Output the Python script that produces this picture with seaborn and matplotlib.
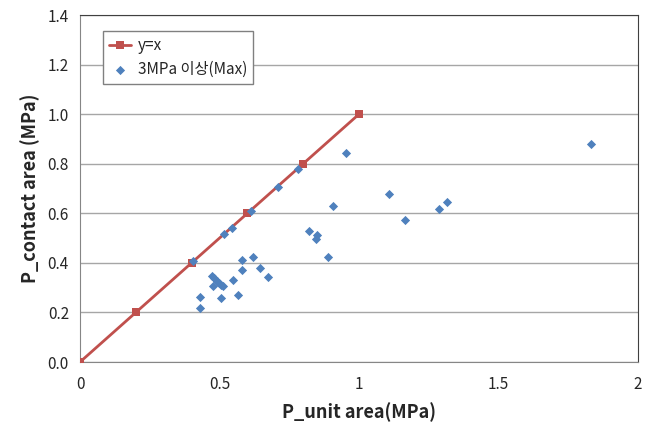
import numpy as np
import pandas as pd
import matplotlib
matplotlib.use('Agg')
import matplotlib.pyplot as plt
import seaborn as sns

# reference line y=x
line_x = [0.0, 0.2, 0.4, 0.6, 0.8, 1.0]
line_y = [0.0, 0.2, 0.4, 0.6, 0.8, 1.0]

# measured points (3MPa 이상, Max)
p_unit = [0.406, 0.517, 0.544, 0.612, 0.711, 0.783,
          0.953, 1.108, 1.314, 1.288, 0.908, 1.166, 0.822, 0.848, 0.846, 0.888, 1.833,
          0.582, 0.620, 0.580, 0.644, 0.675, 0.549, 0.565, 0.507, 0.430, 0.430,
          0.472, 0.481, 0.490, 0.499, 0.478, 0.514, 0.505]
p_contact = [0.407, 0.515, 0.539, 0.609, 0.707, 0.779,
             0.842, 0.678, 0.645, 0.617, 0.628, 0.574, 0.528, 0.512, 0.495, 0.425, 0.878,
             0.410, 0.422, 0.371, 0.381, 0.341, 0.330, 0.270, 0.257, 0.262, 0.219,
             0.348, 0.338, 0.327, 0.317, 0.306, 0.308, 0.312]

x_ticks = [0, 0.5, 1, 1.5, 2]
x_ticklabels = ['0', '0.5', '1', '1.5', '2']
y_ticks = [0.0, 0.2, 0.4, 0.6, 0.8, 1.0, 1.2, 1.4]

sns.set_style('white')
plt.rcParams['font.family'] = ['Noto Sans CJK KR', 'DejaVu Sans']

line_df = pd.DataFrame({'x': line_x, 'y': line_y})
pts_df = pd.DataFrame({'x': p_unit, 'y': p_contact})

fig = plt.figure(figsize=(6.57, 4.23), dpi=100)
ax = fig.add_axes([0.1218, 0.1442, 0.8492, 0.8203])

sns.lineplot(data=line_df, x='x', y='y', ax=ax, color='#C0504D', linewidth=2,
             marker='s', markersize=6, markeredgewidth=0, label='y=x', zorder=3)
sns.scatterplot(data=pts_df, x='x', y='y', ax=ax, color='#4F81BD', marker='D',
                s=22, linewidth=0, label='3MPa 이상(Max)', zorder=4)

ax.set_xlim(0, 2)
ax.set_ylim(0, 1.4)
ax.set_xticks(x_ticks)
ax.set_xticklabels(x_ticklabels)
ax.set_yticks(y_ticks)
ax.set_yticklabels(['%.1f' % v for v in y_ticks])
ax.yaxis.grid(True, color='#A6A6A6', linewidth=1)
ax.set_axisbelow(True)

for s in ['top', 'right']:
    ax.spines[s].set_color('#404040')
for s in ['left', 'bottom']:
    ax.spines[s].set_color('#868686')
ax.tick_params(axis='x', direction='in', length=4, color='#868686', labelsize=11, pad=10)
ax.tick_params(axis='y', direction='out', length=0, labelsize=11, pad=8)

ax.set_xlabel('P_unit area(MPa)', fontsize=13, fontweight='bold', labelpad=7)
ax.set_ylabel('P_contact area (MPa)', fontsize=13, fontweight='bold', labelpad=5)

leg = ax.legend(loc='upper left', bbox_to_anchor=(0.036, 0.963), fontsize=11,
                frameon=True, fancybox=False, edgecolor='#808080', framealpha=1,
                handlelength=1.4, handletextpad=0.45, borderpad=0.4,
                borderaxespad=0.2, labelspacing=0.45)

fig.savefig('out.png', dpi=100)
